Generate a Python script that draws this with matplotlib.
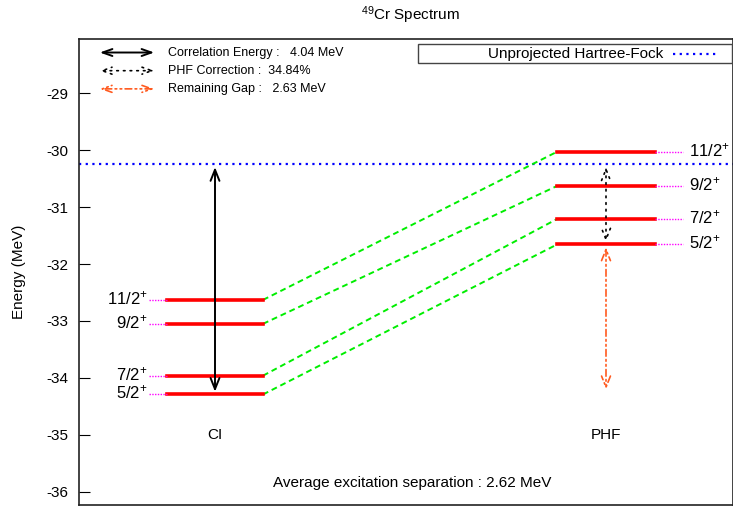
import matplotlib.pyplot as plt

plt.rcParams['font.family'] = ['Liberation Sans', 'DejaVu Sans']
plt.rcParams['axes.unicode_minus'] = False

# level energies (MeV)
spins = ['5/2', '7/2', '9/2', '11/2']
ci_levels = [-34.29, -33.96, -33.05, -32.63]
phf_levels = [-31.657, -31.21, -30.63, -30.03]
hf_energy = -30.25

# x extents of the level bars (axis units)
ci_x = (0.88, 1.84)
phf_x = (4.78, 5.76)
ci_arrow_x = 1.36
phf_arrow_x = 5.27

fig = plt.figure(figsize=(7.33, 5.08), dpi=100)
ax = fig.add_axes([79 / 733, 3 / 508, 654 / 733, 466 / 508])
ax.set_xlim(0, 6.54)
ax.set_ylim(-36.23, -28.05)

# Hartree-Fock reference line
ax.axhline(hf_energy, color='#0000ff', ls=(0, (1, 2)), lw=1.6, zorder=2)

for e_ci, e_phf, s in zip(ci_levels, phf_levels, spins):
    ax.plot(ci_x, [e_ci, e_ci], color='#ff0000', lw=2.6, zorder=3)
    ax.plot(phf_x, [e_phf, e_phf], color='#ff0000', lw=2.6, zorder=3)
    ax.plot([ci_x[0] - 0.18, ci_x[0]], [e_ci, e_ci], color='#ff00ff', ls=(0, (1, 1)), lw=1, zorder=3)
    ax.plot([phf_x[1], phf_x[1] + 0.28], [e_phf, e_phf], color='#ff00ff', ls=(0, (1, 1)), lw=1, zorder=3)
    ax.plot([ci_x[1], phf_x[0]], [e_ci, e_phf], color='#00ee00', ls=(0, (3, 2)), lw=1.4, zorder=2)
    lab = '$\\mathregular{%s^{{+}}}$' % s
    ax.text(ci_x[0] - 0.19, e_ci + 0.03, lab, ha='right', va='center', fontsize=12)
    ax.text(phf_x[1] + 0.34, e_phf + 0.03, lab, ha='left', va='center', fontsize=12)

head = '<->,head_length=0.8,head_width=0.32'

# correlation energy arrows
ax.annotate('', xy=(ci_arrow_x, ci_levels[0]), xytext=(ci_arrow_x, hf_energy),
            arrowprops=dict(arrowstyle=head, color='black', lw=1.4), zorder=4)
ax.annotate('', xy=(phf_arrow_x, phf_levels[0]), xytext=(phf_arrow_x, hf_energy),
            arrowprops=dict(arrowstyle=head, color='black', lw=1.2, ls=(0, (1, 3))), zorder=4)
ax.annotate('', xy=(phf_arrow_x, ci_levels[0] + 0.04), xytext=(phf_arrow_x, phf_levels[0]),
            arrowprops=dict(arrowstyle=head, color='#ff5a1f', lw=1.2,
                            ls=(0, (4, 2, 1, 2, 1, 2))), zorder=4)

ax.text(ci_arrow_x, -35.0, 'CI', ha='center', va='center', fontsize=11)
ax.text(phf_arrow_x, -35.0, 'PHF', ha='center', va='center', fontsize=11)
ax.text(3.33, -35.85, 'Average excitation separation : 2.62 MeV', ha='center', va='center', fontsize=11)

# top-left legend of arrows
leg_items = [('Correlation Energy :   4.04 MeV', 'black', '-', 1.4),
             ('PHF Correction :  34.84%', 'black', (0, (1, 3)), 1.2),
             ('Remaining Gap :   2.63 MeV', '#ff5a1f', (0, (4, 2, 1, 2, 1, 2)), 1.2)]
for i, (lab, col, ls, lw) in enumerate(leg_items):
    y = 0.971 - i * 0.039
    ax.annotate('', xy=(0.18, y), xytext=(0.78, y), xycoords=('data', 'axes fraction'),
                arrowprops=dict(arrowstyle='<->,head_length=0.7,head_width=0.25', color=col, lw=lw, ls=ls))
    ax.text(0.89, y, lab, transform=ax.get_xaxis_transform(), ha='left', va='center', fontsize=9)

# top-right key box
ax.text(5.84, -28.31, 'Unprojected Hartree-Fock', ha='right', va='center', fontsize=11, zorder=5)
ax.plot([5.94, 6.39], [-28.31, -28.31], color='#0000ff', ls=(0, (1, 2)), lw=1.6, zorder=5)
box = plt.Rectangle((3.39, -28.47), 3.14, 0.33, fill=False, ec='#444444', lw=1.0, zorder=5)
ax.add_patch(box)

ax.set_yticks(range(-36, -28))
ax.set_xticks([])
ax.tick_params(axis='y', direction='in', length=8, labelsize=11, pad=8)
ax.set_ylabel('Energy (MeV)', fontsize=11, labelpad=14)
for sp in ax.spines.values():
    sp.set_linewidth(1.2)
    sp.set_color('#222222')

fig.text(410 / 733, 1 - 15 / 508, '$\\mathregular{^{49}}$Cr Spectrum', ha='center', va='center', fontsize=11)

fig.savefig('out.png', dpi=100)
